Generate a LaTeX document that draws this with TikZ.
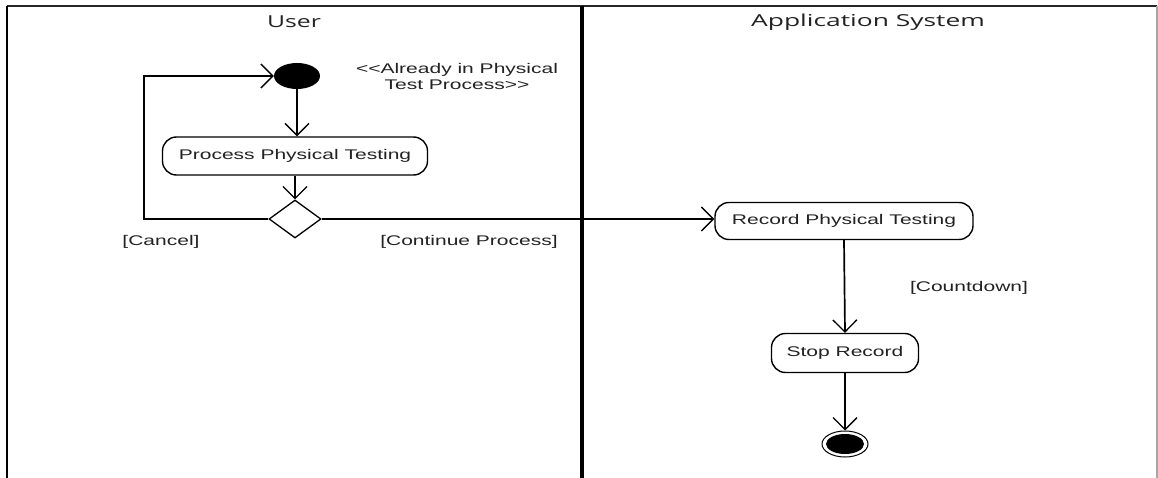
\documentclass[tikz,border=0pt]{standalone}
\usepackage{fontspec}
\setmainfont{Liberation Sans}
\newfontfamily\headfont{Open Sans}
\usetikzlibrary{shapes.geometric,arrows.meta}
\newcommand\widetext[2][1.5]{\scalebox{#1}[1]{#2}}
\definecolor{ink}{HTML}{222222}
\tikzset{
  action/.style={draw, line width=1.4pt, rounded corners=14pt, inner sep=0pt, text=ink,
                 font=\fontsize{14}{16}\selectfont},
  label/.style={inner sep=0pt, text=ink, font=\fontsize{14}{16}\selectfont},
  lanehead/.style={inner sep=0pt, text=ink, font=\headfont\fontsize{16.5}{18}\selectfont},
  flow/.style={line width=1.7pt, -{Straight Barb[length=12pt,width=24pt,line width=1.3pt]}},
}
\begin{document}
\begin{tikzpicture}[x=1pt,y=-1pt]
\useasboundingbox (0,0) rectangle (1158,478);
% swimlane frame
\draw[line width=1.8pt, black!85] (7,6) -- (1157,6);
\draw[line width=2.6pt] (7,6) -- (7,478);
\draw[line width=1.2pt, black!35] (1157,6) -- (1157,478);
\draw[line width=3.2pt] (582,6) -- (582,478);
\node[lanehead] (userlane) at (294,22) {\widetext[1.5]{User}};
\node[lanehead] (applane) at (868,22) {\widetext[1.6]{Application System}};

% User lane
\node[ellipse, fill=black, minimum width=46pt, minimum height=26pt, inner sep=0pt] (init) at (297,76) {};
\node[label, align=center] (note) at (457,78)
  {\widetext{\begin{tabular}{@{}c@{}}{<}{<}Already in Physical\\[0pt]Test Process{>}{>}\end{tabular}}};
\node[action, minimum width=265pt, minimum height=38pt] (ppt) at (295,156) {\widetext{Process Physical Testing}};
\node[diamond, draw, line width=1.3pt, minimum width=52pt, minimum height=38pt, inner sep=0pt] (dec) at (295,219) {};
\coordinate (loop) at (144,219);
\node[label] (cancel) at (161,242) {\widetext{[Cancel]}};
\node[label] (cont) at (469,242) {\widetext{[Continue Process]}};

% Application System lane
\node[action, minimum width=258pt, minimum height=37pt] (rec) at (844,221) {\widetext{Record Physical Testing}};
\node[label] (countdown) at (969,288) {\widetext{[Countdown]}};
\node[action, minimum width=147pt, minimum height=39pt] (stop) at (845,353) {\widetext{Stop Record}};
\node[ellipse, draw, line width=1pt, minimum width=46pt, minimum height=26pt, inner sep=0pt] (final) at (845,444) {};
\fill (final.center) ellipse [x radius=19pt, y radius=10pt];

% control flows
\draw[flow] (init) -- (init |- ppt.north);
\draw[flow] (ppt.south) -- (dec.north);
\draw[flow] (dec.west) -- (loop) |- (init.west);
\draw[flow] (dec.east) -- (dec.east -| rec.west);
\draw[flow] (rec.south) -- (stop.north);
\draw[flow] (stop.south) -- (final.north);
\end{tikzpicture}
\end{document}
